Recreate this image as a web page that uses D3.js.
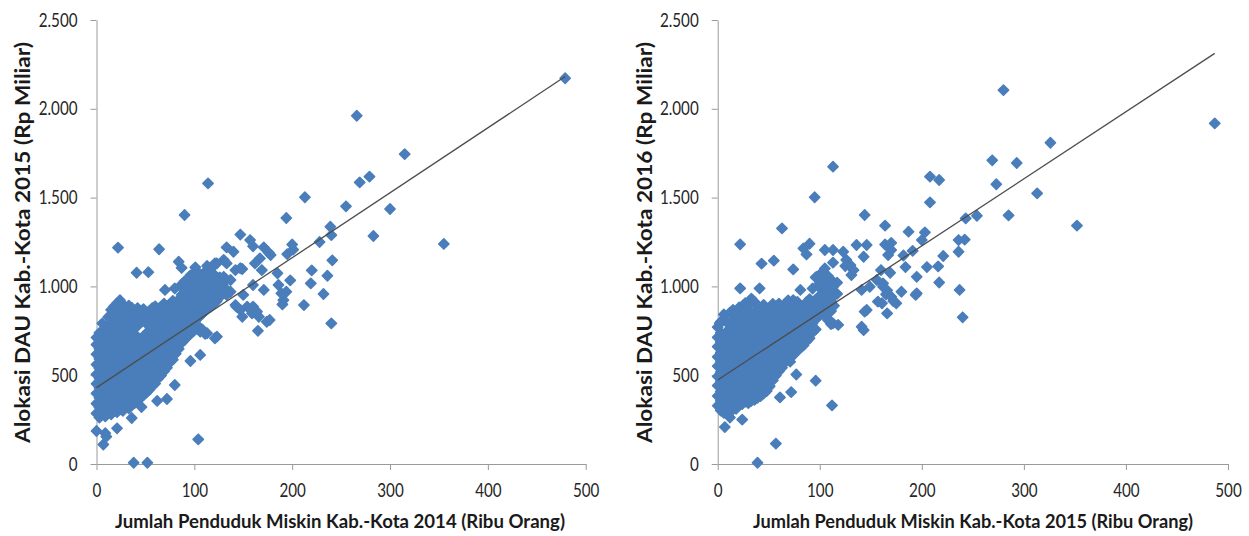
<!DOCTYPE html>
<html>
<head>
<meta charset="utf-8">
<script src="https://cdn.jsdelivr.net/npm/d3@7"></script>
<style>
  body { margin: 0; background: #fff; }
  text { font-family: Lato, "Open Sans", sans-serif; }
</style>
</head>
<body>
<svg id="chart" width="1249" height="536"></svg>
<script>
// Tick values and labels (Indonesian number format)
const xTicks = [0, 100, 200, 300, 400, 500];
const yTicks = [0, 500, 1000, 1500, 2000, 2500];
const yTickLabels = ["0", "500", "1.000", "1.500", "2.000", "2.500"];

const xTitles = [
  "Jumlah Penduduk Miskin Kab.-Kota 2014 (Ribu Orang)",
  "Jumlah Penduduk Miskin Kab.-Kota 2015 (Ribu Orang)"
];
const yTitles = [
  "Alokasi DAU Kab.-Kota 2015 (Rp Miliar)",
  "Alokasi DAU Kab.-Kota 2016 (Rp Miliar)"
];

// Linear trend lines: [intercept, slope]
const trend2015 = [430, 3.657];
const trend2016 = [473, 3.776];

// Dense core of districts: each row is a poverty count followed by the
// DAU values of the districts with roughly that count.
const core2015 = [
  [0, 285, 340, 398, 452, 505, 560, 618, 672, 712],
  [3, 262, 318, 372, 428, 483, 538, 592, 648, 700, 738],
  [6, 278, 333, 388, 446, 498, 553, 607, 662, 720, 792],
  [9, 268, 322, 380, 433, 490, 547, 598, 655, 708, 762],
  [12, 288, 343, 402, 455, 508, 566, 618, 673, 728, 783, 828],
  [15, 280, 328, 385, 440, 497, 550, 603, 660, 713, 768, 822, 868],
  [18, 298, 352, 410, 463, 518, 575, 628, 686, 740, 793, 848, 888],
  [21, 292, 340, 393, 450, 506, 558, 615, 668, 723, 778, 836, 905],
  [24, 308, 366, 418, 474, 530, 583, 641, 694, 748, 806, 858, 922],
  [27, 300, 352, 404, 460, 515, 571, 623, 681, 736, 789, 846, 898],
  [30, 322, 373, 430, 486, 538, 596, 648, 706, 758, 816, 868],
  [33, 313, 362, 413, 471, 525, 579, 636, 688, 746, 801, 853, 892],
  [36, 336, 388, 447, 498, 556, 608, 666, 718, 777, 828, 880],
  [39, 343, 402, 453, 511, 563, 621, 673, 731, 783, 842],
  [42, 362, 413, 471, 523, 581, 633, 691, 778, 836, 878],
  [45, 371, 428, 486, 538, 596, 652, 703, 806, 858],
  [48, 388, 447, 498, 556, 608, 666, 718, 828, 872],
  [51, 402, 458, 516, 568, 626, 678, 736, 791, 848],
  [54, 418, 476, 528, 586, 638, 696, 748, 806, 861],
  [57, 441, 493, 551, 603, 661, 713, 771, 823, 878],
  [60, 453, 511, 563, 621, 673, 731, 783, 841, 888],
  [63, 482, 533, 591, 643, 701, 753, 811, 863],
  [66, 498, 556, 608, 666, 718, 776, 828, 886],
  [69, 522, 573, 631, 683, 741, 793, 851, 903],
  [72, 543, 601, 653, 711, 763, 821, 873],
  [75, 572, 623, 681, 733, 791, 843, 901],
  [78, 588, 646, 698, 756, 808, 866, 918],
  [81, 621, 673, 731, 783, 841, 893],
  [84, 648, 706, 758, 816, 868, 926],
  [87, 682, 733, 791, 843, 901, 953, 1011],
  [90, 698, 756, 808, 866, 918, 976, 1028],
  [93, 722, 773, 831, 883, 941, 998],
  [96, 731, 788, 846, 898, 956, 1008, 1062],
  [99, 748, 806, 858, 916, 968, 1031],
  [102, 762, 813, 871, 923, 981, 1038, 1088],
  [105, 771, 828, 886, 938, 996, 1048],
  [108, 758, 846, 898, 956, 1008, 1066],
  [111, 733, 861, 913, 971, 1023, 1081],
  [114, 876, 928, 986, 1038, 1098],
  [117, 888, 946, 998, 1056],
  [120, 902, 958, 1016, 1068],
  [123, 918, 976, 1028],
  [126, 941, 993, 1051],
  [129, 958, 1012],
  [132, 987, 1041]
];

// Remaining districts, [poor population 2014, DAU 2015]
const spread2015 = [
  [479, 2172], [266, 1961], [315, 1745], [279, 1618], [269, 1586], [114, 1580],
  [213, 1502], [255, 1451], [300, 1436], [90, 1402], [194, 1385], [239, 1336],
  [147, 1292], [240, 1289], [283, 1284], [157, 1261], [228, 1250], [355, 1239],
  [200, 1236], [22, 1218], [133, 1220], [160, 1226], [171, 1220], [64, 1209],
  [201, 1207], [140, 1195], [176, 1190], [195, 1182], [178, 1177], [167, 1158],
  [130, 1149], [241, 1147], [84, 1139], [121, 1130], [162, 1130], [123, 1130],
  [133, 1130], [87, 1104], [101, 1107], [113, 1115], [119, 1111], [147, 1102],
  [142, 1092], [149, 1098], [169, 1092], [220, 1090], [185, 1074], [236, 1060],
  [41, 1077], [53, 1080], [106, 1036], [119, 1036], [130, 1054], [137, 1036],
  [198, 1034], [219, 1017], [113, 998], [119, 1017], [123, 961], [186, 1008],
  [160, 1008], [99, 998], [125, 998], [70, 980], [80, 989], [113, 980],
  [106, 961], [137, 970], [194, 970], [171, 980], [189, 961], [232, 957],
  [133, 952], [150, 952], [191, 923], [190, 899], [212, 895], [142, 895],
  [78, 895], [143, 886], [154, 886], [160, 886], [147, 867], [164, 858],
  [159, 848], [149, 829], [166, 829], [174, 801], [177, 811], [240, 792],
  [165, 750], [106, 745], [113, 736], [123, 717], [121, 708], [96, 580],
  [106, 614], [80, 445], [72, 366], [62, 355], [46, 321], [36, 259],
  [104, 139], [21, 201], [9, 173], [0, 186], [7, 110], [10, 154],
  [38, 7], [52, 7]
];

const core2016 = [
  [0, 328, 383, 441, 493, 551, 603, 661, 713, 771],
  [3, 301, 356, 408, 466, 518, 576, 628, 686, 738, 801],
  [6, 288, 346, 398, 456, 508, 566, 618, 676, 728, 842],
  [9, 306, 358, 416, 468, 526, 578, 636, 688, 746, 798],
  [12, 291, 343, 401, 453, 511, 563, 621, 673, 731, 783, 852],
  [15, 318, 376, 428, 486, 538, 596, 648, 706, 758, 816, 868],
  [18, 311, 361, 413, 471, 523, 581, 633, 691, 743, 801, 853],
  [21, 331, 383, 441, 493, 551, 603, 661, 713, 771, 823, 881],
  [24, 338, 396, 448, 506, 558, 616, 668, 726, 778, 836, 888],
  [27, 352, 408, 466, 518, 576, 628, 686, 738, 796, 848, 906],
  [30, 343, 401, 453, 511, 563, 621, 673, 731, 783, 841, 893],
  [33, 356, 408, 466, 518, 576, 628, 686, 738, 796, 848, 931],
  [36, 361, 418, 476, 528, 586, 638, 696, 748, 806, 858, 913],
  [39, 373, 431, 483, 541, 593, 651, 703, 761, 813, 871],
  [42, 382, 438, 496, 548, 606, 658, 716, 768, 826, 878],
  [45, 398, 456, 508, 566, 618, 676, 728, 786, 838, 896],
  [48, 411, 463, 521, 573, 631, 683, 741, 793, 851],
  [51, 438, 496, 548, 606, 658, 716, 768, 826, 878],
  [54, 471, 523, 581, 633, 691, 743, 801, 853, 902],
  [57, 498, 556, 608, 666, 718, 776, 828, 886],
  [60, 522, 573, 631, 683, 741, 793, 851, 903],
  [63, 543, 601, 653, 711, 763, 821, 873],
  [66, 572, 623, 681, 733, 791, 843, 898],
  [69, 588, 646, 698, 756, 808, 866, 921],
  [72, 611, 663, 721, 773, 831, 883],
  [75, 618, 676, 728, 786, 838, 896],
  [78, 641, 693, 751, 803, 861, 913],
  [81, 652, 708, 766, 818, 876],
  [84, 668, 726, 778, 836, 888],
  [87, 691, 743, 801, 853, 911],
  [90, 708, 766, 818, 876, 928],
  [93, 741, 793, 851, 903, 988],
  [96, 758, 816, 868, 926, 1051],
  [99, 831, 883, 941, 998, 1056],
  [102, 848, 906, 958, 1021, 1078],
  [105, 872, 923, 986, 1038, 1101],
  [108, 818, 881, 938, 1001, 1058],
  [111, 788, 861, 918, 981, 1038],
  [114, 891, 948, 1011],
  [117, 958, 1021]
];

// Remaining districts, [poor population 2015, DAU 2016]
const spread2016 = [
  [487, 1918], [280, 2105], [326, 1809], [269, 1710], [293, 1695], [113, 1674],
  [208, 1618], [217, 1599], [273, 1575], [313, 1524], [95, 1502], [208, 1473],
  [144, 1402], [285, 1400], [254, 1398], [243, 1383], [352, 1342], [164, 1342],
  [63, 1327], [187, 1308], [203, 1304], [200, 1261], [236, 1261], [242, 1263],
  [164, 1236], [170, 1245], [90, 1240], [22, 1237], [136, 1233], [146, 1233],
  [170, 1205], [84, 1214], [105, 1205], [113, 1205], [123, 1195], [191, 1200],
  [236, 1195], [87, 1180], [143, 1167], [167, 1177], [182, 1174], [221, 1171],
  [55, 1145], [43, 1128], [126, 1149], [113, 1134], [216, 1113], [184, 1109],
  [205, 1109], [125, 1115], [130, 1120], [74, 1096], [133, 1092], [160, 1092],
  [169, 1077], [131, 1064], [195, 1054], [97, 1054], [105, 1036], [156, 1036],
  [217, 1022], [100, 1017], [162, 1017], [22, 989], [41, 989], [81, 980],
  [107, 980], [149, 998], [162, 998], [166, 978], [141, 980], [237, 980],
  [113, 998], [180, 970], [195, 961], [165, 955], [194, 952], [170, 942],
  [110, 942], [172, 918], [157, 914], [175, 905], [161, 905], [106, 923],
  [74, 923], [108, 886], [146, 867], [144, 858], [166, 848], [240, 826],
  [108, 811], [113, 792], [118, 783], [141, 773], [143, 754], [2, 792],
  [96, 469], [112, 330], [57, 115], [39, 7], [72, 405], [61, 375],
  [77, 504], [71, 576], [51, 510], [24, 250], [12, 262], [7, 208]
];

function expand(core, spread) {
  const pts = [];
  core.forEach(row => row.slice(1).forEach(v => pts.push([row[0], v])));
  return pts.concat(spread);
}

const panels = [
  { points: expand(core2015, spread2015), trend: trend2015, xRange: [96.5, 585.7],
    xTitle: xTitles[0], yTitle: yTitles[0], xTitleX: 340, xTitleLen: 450, yTitleX: 30 },
  { points: expand(core2016, spread2016), trend: trend2016, xRange: [717.7, 1228],
    xTitle: xTitles[1], yTitle: yTitles[1], xTitleX: 973, xTitleLen: 440, yTitleX: 652 }
];

const svg = d3.select("#chart");
const yRange = [464, 20];
const axisColor = "#9a9a9a";
const markColor = "#4a7ebb";
const labelScale = 0.8;
const diamond = d3.symbol().type(d3.symbolSquare).size(52);

panels.forEach(p => {
  const x = d3.scaleLinear().domain([0, 500]).range(p.xRange);
  const y = d3.scaleLinear().domain([0, 2500]).range(yRange);
  const g = svg.append("g");

  // y axis
  const ya = g.append("g")
    .attr("transform", `translate(${p.xRange[0]},0)`)
    .call(d3.axisLeft(y).tickValues(yTicks).tickSize(6).tickSizeOuter(0)
      .tickFormat((d, i) => yTickLabels[i]));
  ya.selectAll("text")
    .attr("x", 0)
    .attr("transform", `translate(-19,0) scale(${labelScale},1)`)
    .attr("font-size", 19).attr("fill", "#262626")
    .style("font-family", "Lato");

  // x axis
  const xa = g.append("g")
    .attr("transform", `translate(0,${yRange[0]})`)
    .call(d3.axisBottom(x).tickValues(xTicks).tickSize(6).tickSizeOuter(0));
  xa.selectAll("text")
    .attr("y", 0).attr("dy", "0.36em")
    .attr("transform", `translate(0,26) scale(${labelScale},1)`)
    .attr("font-size", 19).attr("fill", "#262626")
    .style("font-family", "Lato");

  g.selectAll(".domain, .tick line").attr("stroke", axisColor);

  // markers: rounded diamonds
  g.append("g").selectAll("path")
    .data(p.points)
    .join("path")
    .attr("d", diamond)
    .attr("transform", d => `translate(${x(d[0])},${y(d[1])}) rotate(45)`)
    .attr("fill", markColor)
    .attr("stroke", markColor).attr("stroke-width", 1.6)
    .attr("stroke-linejoin", "round");

  // trend line from zero to the largest poverty count
  const xMax = d3.max(p.points, d => d[0]);
  g.append("line")
    .attr("x1", x(0)).attr("y1", y(p.trend[0]))
    .attr("x2", x(xMax)).attr("y2", y(p.trend[0] + p.trend[1] * xMax))
    .attr("stroke", "#4d4d4d").attr("stroke-width", 1.3);

  // axis titles
  g.append("text")
    .attr("x", p.xTitleX).attr("y", 528)
    .attr("text-anchor", "middle")
    .attr("font-size", 18).attr("font-weight", "bold").attr("fill", "#1a1a1a")
    .attr("textLength", p.xTitleLen).attr("lengthAdjust", "spacingAndGlyphs")
    .text(p.xTitle);

  g.append("text")
    .attr("transform", `translate(${p.yTitleX},242.5) rotate(-90)`)
    .attr("text-anchor", "middle")
    .attr("font-size", 20).attr("font-weight", "bold").attr("fill", "#1a1a1a")
    .attr("textLength", 401).attr("lengthAdjust", "spacingAndGlyphs")
    .text(p.yTitle);
});
</script>
</body>
</html>
